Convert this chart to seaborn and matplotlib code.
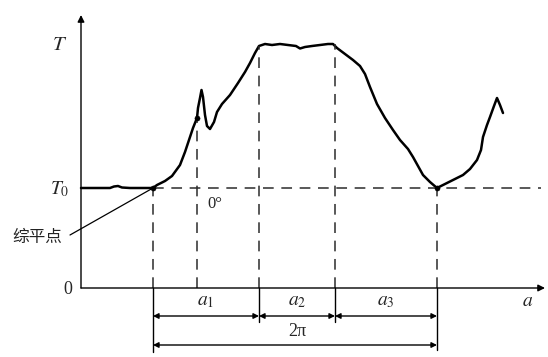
import numpy as np
import pandas as pd
import seaborn as sns
import matplotlib.pyplot as plt

# temperature trace, x = crank angle (arb. units), T = temperature (arb. units)
curve_x = [0.00, 0.14, 0.29, 0.33, 0.37, 0.41, 0.49, 0.64, 0.72, 0.76, 0.84, 0.91,
           0.99, 1.04, 1.09, 1.12, 1.16, 1.17, 1.19, 1.205, 1.22, 1.24, 1.26, 1.29,
           1.33, 1.36, 1.41, 1.49, 1.57, 1.64, 1.69, 1.74, 1.78, 1.84, 1.91, 1.99,
           2.07, 2.15, 2.19, 2.24, 2.31, 2.39, 2.47, 2.52, 2.56, 2.64, 2.72, 2.79,
           2.84, 2.89, 2.96, 3.04, 3.12, 3.19, 3.27, 3.32, 3.37, 3.42, 3.49, 3.56,
           3.64, 3.74, 3.82, 3.89, 3.96, 4.00, 4.02, 4.06, 4.09, 4.13, 4.16, 4.19, 4.22]
curve_T = [1.00, 1.00, 1.00, 1.015, 1.02, 1.005, 1.00, 1.00, 1.00, 1.03, 1.07, 1.12,
           1.23, 1.36, 1.51, 1.60, 1.70, 1.80, 1.90, 1.98, 1.91, 1.73, 1.62, 1.59,
           1.66, 1.76, 1.84, 1.93, 2.05, 2.16, 2.25, 2.35, 2.42, 2.44, 2.43, 2.44,
           2.43, 2.42, 2.395, 2.41, 2.42, 2.43, 2.44, 2.44, 2.40, 2.34, 2.28, 2.22,
           2.14, 2.01, 1.84, 1.70, 1.58, 1.48, 1.39, 1.31, 1.22, 1.13, 1.06, 1.00,
           1.04, 1.09, 1.13, 1.19, 1.28, 1.38, 1.51, 1.63, 1.71, 1.82, 1.90, 1.83, 1.75]

T0 = 1.0
marks_x = [0.72, 1.16, 3.56]
marks_T = [1.00, 1.70, 1.00]
# division lines: balance point, 0 deg, end of a1, end of a2, end of 2pi
div_x = [0.72, 1.16, 1.78, 2.54, 3.56]
div_top = [1.00, 1.70, 2.42, 2.44, 1.00]
div_bottom = [-0.64, 0.0, -0.34, -0.34, -0.62]
seg_labels = ["$a_1$", "$a_2$", "$a_3$"]

sns.set_style("white")
plt.rcParams["font.family"] = ["Liberation Serif", "Noto Sans CJK SC", "DejaVu Sans"]
plt.rcParams["mathtext.fontset"] = "stix"

fig = plt.figure(figsize=(5.48, 3.57), dpi=100)
ax = fig.add_axes([0, 0, 1, 1])
ax.set_xlim(-0.81, 4.67)
ax.set_ylim(-0.69, 2.88)
ax.axis("off")

df = pd.DataFrame({"x": curve_x, "T": curve_T})
sns.lineplot(data=df, x="x", y="T", color="black", lw=1.8, sort=False, ax=ax)
sns.scatterplot(x=marks_x, y=marks_T, color="black", s=14, edgecolor=None, ax=ax, zorder=5)

dash = dict(color="#2b2b2b", lw=1.1, ls=(0, (7, 5)))
ax.plot([marks_x[0], 4.60], [T0, T0], **dash)
for x, top, bot in zip(div_x, div_top, div_bottom):
    ax.plot([x, x], [0, top], **dash)
    if bot < 0:
        ax.plot([x, x], [bot, 0], color="black", lw=1.0)

# axes with arrows
arr = dict(arrowstyle="-|>", color="black", lw=1.0, mutation_scale=10, shrinkA=0, shrinkB=0)
ax.annotate("", xy=(4.64, 0), xytext=(0, 0), arrowprops=arr)
ax.annotate("", xy=(0, 2.73), xytext=(0, 0), arrowprops=arr)

# dimension arrows
dim = dict(arrowstyle="<|-|>", color="black", lw=1.0, mutation_scale=8, shrinkA=0, shrinkB=0)
bounds = [div_x[0], div_x[2], div_x[3], div_x[4]]
for i, lab in enumerate(seg_labels):
    ax.annotate("", xy=(bounds[i + 1], -0.28), xytext=(bounds[i], -0.28), arrowprops=dim)
    ax.text((bounds[i] + bounds[i + 1]) / 2, -0.13, lab, fontsize=14, ha="center", va="center")
ax.annotate("", xy=(bounds[-1], -0.57), xytext=(bounds[0], -0.57), arrowprops=dim)
ax.text(2.16, -0.43, "2π", fontsize=13, ha="center", va="center")

ax.text(-0.21, 2.43, "$T$", fontsize=15, ha="center", va="center")
ax.text(-0.21, 0.99, "$T_0$", fontsize=14, ha="center", va="center")
ax.text(-0.13, -0.02, "0", fontsize=13, ha="center", va="center")
ax.text(4.47, -0.13, "$a$", fontsize=14, ha="center", va="center")
ax.text(1.34, 0.84, "0°", fontsize=12, ha="center", va="center")

ax.plot([-0.11, marks_x[0]], [0.53, T0], color="black", lw=0.9)
ax.text(-0.44, 0.51, "综平点", fontsize=12, ha="center", va="center",
        family=["Noto Sans CJK SC", "DejaVu Sans"], color="#222222")

fig.savefig("out.png", dpi=100)
